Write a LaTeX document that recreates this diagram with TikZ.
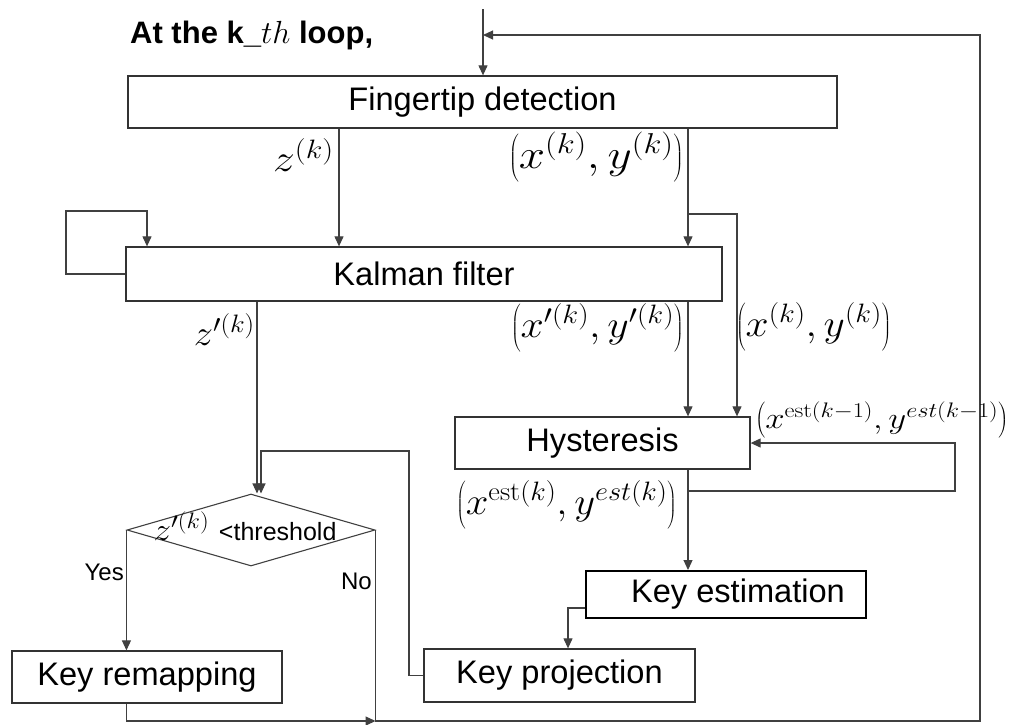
\RequirePackage{fix-cm}
\documentclass[tikz,border=0pt]{standalone}
\usepackage[no-math]{fontspec}
\newfontfamily\arial{Liberation Sans}
\usetikzlibrary{arrows.meta,shapes.geometric}

\tikzset{
  stepbox/.style={draw=black!80, line width=1.3pt, inner sep=0pt,
    font=\arial\fontsize{32.6}{38}\selectfont},
  link/.style={draw=black!75, line width=1.1pt, -{Triangle[length=10pt,width=9pt]}},
  mlab/.style={inner sep=0pt, font=\fontsize{38}{42}\selectfont},
  smalllab/.style={inner sep=0pt, font=\arial\fontsize{24}{28}\selectfont},
}
% horizontally widened formula
\newcommand{\wmath}[2]{\scalebox{#1}[1]{$#2$}}

\begin{document}
\begin{tikzpicture}[x=1pt,y=-1pt]
\useasboundingbox (0,0) rectangle (1016,724);

% heading
\node[anchor=base west, inner sep=0pt, font=\arial\bfseries\fontsize{31}{36}\selectfont]
  (title) at (130,43) {At the k\_{\fontsize{32}{34}\selectfont$th$} loop,};

% processing blocks
\node[stepbox, minimum width=709pt, minimum height=52pt] (fd) at (482.5,102) {Fingertip detection};
\node[stepbox, minimum width=596pt, minimum height=54pt] (kf) at (424,274) {Kalman filter};
\node[stepbox, minimum width=295pt, minimum height=52pt] (hy) at (602.5,443) {Hysteresis};
\node[stepbox, draw=black, line width=2pt, minimum width=280pt, minimum height=47pt]
  (ke) at (726,594.5) {\hspace*{24pt}Key estimation};
\node[stepbox, minimum width=271pt, minimum height=53pt] (kp) at (559.5,675.5) {Key projection};
\node[stepbox, minimum width=270pt, minimum height=52pt] (kr) at (147,677) {Key remapping};

% decision
\node[draw=black!75, line width=1.1pt, diamond, inner sep=0pt,
  minimum width=248pt, minimum height=72pt] (dia) at (251,530) {};
\node[inner sep=0pt] (dtx) at (245,526)
  {\fontsize{32}{34}\selectfont\wmath{1.1}{z'^{(k)}} {\arial\fontsize{25}{28}\selectfont <threshold}};

% routing points
\coordinate (tin) at (483,9);
\coordinate (tr) at (980,35);
\coordinate (br) at (980,721);
\coordinate (zx) at (339,0);
\coordinate (xyx) at (688,0);
\coordinate (fork) at (688,214);
\coordinate (rawx) at (737,0);
\coordinate (kloop) at (66,211);
\coordinate (kin) at (147,0);
\coordinate (zpx) at (257,0);
\coordinate (fbx) at (409,451);
\coordinate (dinx) at (261,0);
\coordinate (hfork) at (688,491);
\coordinate (hret) at (955,491);
\coordinate (kex) at (568,608);

% connectors
\draw[link] (tin) -- (tin |- fd.north);
\draw[link] (dia.east) -- (dia.east |- br) -- (br) -- (tr) -- (tr -| tin);
\draw[link] (fd.south -| zx) -- (kf.north -| zx);
\draw[link] (fd.south -| xyx) -- (kf.north -| xyx);
\draw[link] (fork) -| (hy.north -| rawx);
\draw[link] (kf.west) -- (kf.west -| kloop) -- (kloop) -- (kloop -| kin) -- (kf.north -| kin);
\draw[link] (kf.south -| zpx) -- (dia.north -| zpx);
\draw[link] (kp.west) -- (kp.west -| fbx) -- (fbx) -- (fbx -| dinx) -- (dia.north -| dinx);
\draw[link] (dia.west) -- (dia.west |- kr.north);
\draw[link] (dia.west |- kr.south) -- (dia.west |- br) -- (dia.east |- br);
\draw[link] (kf.south -| xyx) -- (hy.north -| xyx);
\draw[link] (hy.south -| xyx) -- (ke.north -| xyx);
\draw[link] (hfork) -- (hret) -- (hret |- hy.east) -- (hy.east);
\draw[link] (ke.west |- kex) -- (kex) -- (kex |- kp.north);

% signal labels
\node[mlab, anchor=east] (lz) at (334,155) {\wmath{1.15}{z^{(k)}}};
\node[mlab, font=\fontsize{41}{44}\selectfont, anchor=east] (lxy) at (684,157)
  {\wmath{1.15}{\left(x^{(k)},y^{(k)}\right)}};
\node[mlab, font=\fontsize{36}{40}\selectfont, anchor=east] (lzp) at (255,330) {\wmath{1.07}{z'^{(k)}}};
\node[mlab, anchor=east] (lxyp) at (684,328) {\wmath{1.1}{\left(x'^{(k)},y'^{(k)}\right)}};
\node[mlab, anchor=west] (lxyr) at (736,327) {\wmath{1.09}{\left(x^{(k)},y^{(k)}\right)}};
\node[mlab, font=\fontsize{30}{34}\selectfont, anchor=west] (lprev) at (755,420)
  {\wmath{1.16}{\left(x^{\mathrm{est}(k-1)},y^{est(k-1)}\right)}};
\node[mlab, anchor=east] (lest) at (677,505)
  {\wmath{1.07}{\left(x^{\mathrm{est}(k)},y^{est(k)}\right)}};
\node[smalllab, anchor=east] (lyes) at (124,572) {Yes};
\node[smalllab, anchor=east] (lno) at (372,581) {No};
\end{tikzpicture}
\end{document}
